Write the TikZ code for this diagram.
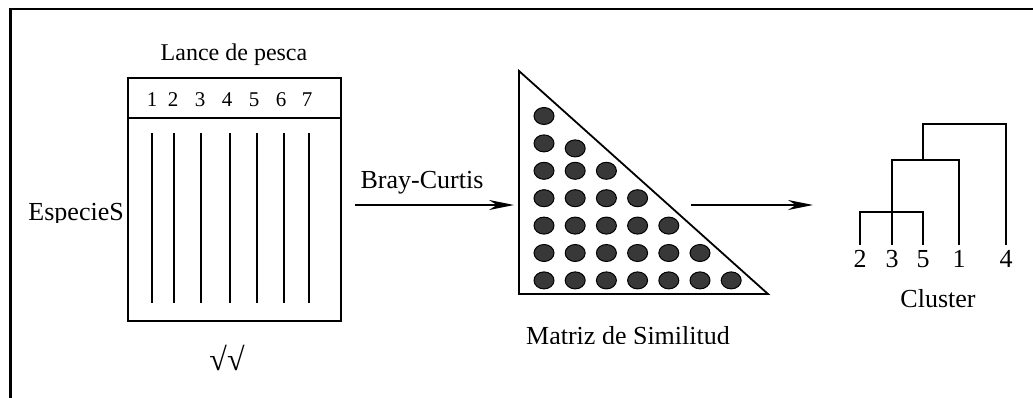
\documentclass[tikz,border=0pt]{standalone}
\usepackage{fontspec}
\setmainfont{Liberation Serif}
\usetikzlibrary{arrows.meta,shapes.geometric}
\begin{document}
\begin{tikzpicture}[x=1pt,y=-1pt,
  ln/.style={line width=1.8pt},
  big/.style={inner sep=0pt, anchor=base, font=\fontsize{26}{30}\selectfont},
  mid/.style={inner sep=0pt, anchor=base, font=\fontsize{24}{28}\selectfont},
  small/.style={inner sep=0pt, anchor=base, font=\fontsize{21}{24}\selectfont},
  dot/.style={shape=ellipse, draw, line width=1pt, fill=black!78, minimum width=20pt, minimum height=17pt, inner sep=0pt},
  arr/.style={line width=1.8pt, -{Stealth[length=25pt,width=10pt,inset=8pt]}}
]
\useasboundingbox (0,0) rectangle (1033,398);
% frame
\coordinate (fbl) at (10.5,398);
\coordinate (ftl) at (10.5,9);
\coordinate (ftr) at (1033,9);
\draw[line width=2.2pt] (fbl) -- (ftl) -- (ftr);

% table
\node[mid] (lance) at (234,61) {Lance de pesca};
\node[draw, ln, anchor=north west, minimum width=213pt, minimum height=243pt, inner sep=0pt] (tabla) at (127,77) {};
\coordinate (hl) at (127,118);
\coordinate (hr) at (340,118);
\draw[ln] (hl) -- (hr);
\foreach \i/\xn/\xl in {1/152/152,2/173/174,3/200/201,4/227/230,5/254/257,6/281/284,7/307/309}{
  \node[small] (n\i) at (\xn,107) {\i};
  \coordinate (t\i) at (\xl,133);
  \coordinate (b\i) at (\xl,303);
  \draw[ln] (t\i) -- (b\i);
}
\begin{scope}
  \clip (20,190) rectangle (126,222.5);
  \node[big, anchor=base east] (esp) at (124,221) {EspecieS};
\end{scope}
\node[inner sep=0pt, font=\fontsize{32}{36}\selectfont] (raiz) at (227,358) {√√};

% Bray-Curtis arrow
\node[big] (bray) at (422,189) {Bray-Curtis};
\coordinate (a1s) at (355,205);
\coordinate (a1e) at (514,205);
\draw[arr] (a1s) -- (a1e);

% triangle
\coordinate (tt) at (519,71);
\coordinate (tbl) at (519,294);
\coordinate (tbr) at (768,294);
\draw[ln, line join=miter] (tt) -- (tbl) -- (tbr) -- cycle;
\foreach \r in {1,...,7}{
  \foreach \c in {1,...,\r}{
    \node[dot] (d\r\c) at ({544+31.2*(\c-1)}, {116+27.4*(\r-1)+((\r==2 && \c==2) ? 5 : 0)}) {};
  }
}
\begin{scope}
  \clip (500,315) rectangle (760,343);
  \node[big] (matriz) at (628,344.5) {Matriz de Similitud};
\end{scope}

% second arrow
\coordinate (a2s) at (691,205);
\coordinate (a2e) at (813,205);
\draw[arr] (a2s) -- (a2e);

% dendrogram
\foreach \n/\x in {2/860,3/892,5/923,1/959,4/1006}{
  \coordinate (lf\n) at (\x,245);
  \node[big] (lab\n) at (\x,267) {\n};
}
\coordinate (j25) at (923,212);
\coordinate (j3) at (892,160);
\coordinate (j1) at (959,160);
\coordinate (jm) at (923,160);
\coordinate (jt) at (923,124);
\coordinate (j4) at (1006,124);
\draw[ln] (lf2) |- (j25) -- (lf5);
\draw[ln] (lf3) -- (j3) -- (j1) -- (lf1);
\draw[ln] (jm) -- (jt) -- (j4) -- (lf4);
\node[big] (cluster) at (938,307) {Cluster};
\end{tikzpicture}
\end{document}
